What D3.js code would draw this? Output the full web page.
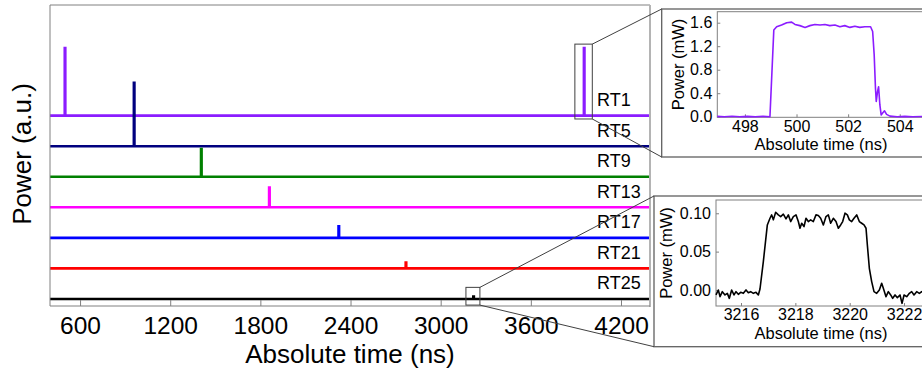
<!DOCTYPE html>
<head>
    <meta charset="utf-8">
    <title>Round trips : pulse power vs absolute time</title>
    <style>
        body { margin: 0; background: #fff; }
        svg { display: block; font-family: "Liberation Sans", Arial, sans-serif; }
        svg text { font-family: "Liberation Sans", Arial, sans-serif; }
        .frame { fill: none; stroke: #808080; stroke-width: 1; }
        .tick line { stroke: #808080; }
        .domain { display: none; }
    </style>
</head>
<body>
<svg width="922" height="371"></svg>

<script src="https://d3js.org/d3.v7.min.js"></script>
<script>

    //****************************data************************************//

    // main panel: one trace per round trip, stacked with an offset (a.u.)
    var traceNames = ["RT1", "RT5", "RT9", "RT13", "RT17", "RT21", "RT25"];
    var traceOffsets = [6, 5, 4, 3, 2, 1, 0];
    var pulseTimes = [[500, 3955], [960], [1407], [1860], [2322], [2769], [3219]]; // ns
    var pulseHeights = [[2.21, 2.21], [2.07], [0.91], [0.65], [0.38], [0.19], [0.08]]; // a.u.
    var mainTicks = [600, 1200, 1800, 2400, 3000, 3600, 4200];

    // inset 1 : RT1 pulse
    var rt1Time = [496.93, 497.2, 497.5, 497.8, 498.1, 498.4, 498.7, 498.97, 499.12, 499.23, 499.42, 499.62,
        499.81, 499.94, 500.13, 500.33, 500.52, 500.71, 500.91, 501.1, 501.29, 501.49, 501.68, 501.87,
        502.07, 502.26, 502.45, 502.65, 502.87, 502.95, 503.01, 503.06, 503.09, 503.14, 503.18, 503.23,
        503.28, 503.33, 503.41, 503.49, 503.62, 503.9, 504.2, 504.5, 504.85, 505.2, 505.5];
    var rt1Power = [0.005, 0.0, 0.008, 0.0, 0.006, 0.0, 0.005, 0.0, 1.476, 1.53, 1.56, 1.60,
        1.61, 1.57, 1.55, 1.52, 1.55, 1.57, 1.56, 1.57, 1.55, 1.56, 1.53, 1.55,
        1.52, 1.54, 1.52, 1.53, 1.53, 1.45, 1.05, 0.48, 0.26, 0.43, 0.51, 0.20,
        0.03, 0.06, 0.10, 0.04, 0.01, 0.0, 0.005, 0.0, 0.004, 0.0, 0.003];
    var inset1XTicks = [498, 500, 502, 504];
    var inset1YTicks = [0, 0.4, 0.8, 1.2, 1.6];

    // inset 2 : RT25 pulse
    var rt25Time = [3215.08, 3215.166, 3215.227, 3215.313, 3215.411, 3215.497, 3215.571, 3215.656, 3215.742,
        3215.816, 3215.902, 3215.988, 3216.086, 3216.184, 3216.27, 3216.356, 3216.454, 3216.552, 3216.638,
        3216.699, 3216.822, 3216.969, 3217.067, 3217.129, 3217.19, 3217.276, 3217.374, 3217.46, 3217.558,
        3217.656, 3217.742, 3217.828, 3217.926, 3218.024, 3218.11, 3218.171, 3218.233, 3218.319, 3218.392,
        3218.478, 3218.564, 3218.662, 3218.76, 3218.846, 3218.932, 3219.03, 3219.128, 3219.214, 3219.3,
        3219.398, 3219.496, 3219.582, 3219.668, 3219.742, 3219.828, 3219.914, 3219.987, 3220.073, 3220.159,
        3220.257, 3220.355, 3220.441, 3220.527, 3220.601, 3220.65, 3220.723, 3220.809, 3220.895, 3220.993,
        3221.091, 3221.177, 3221.238, 3221.336, 3221.422, 3221.508, 3221.582, 3221.668, 3221.754, 3221.852,
        3221.926, 3222.0, 3222.098, 3222.196, 3222.281, 3222.367, 3222.465, 3222.563, 3222.65, 3222.75];
    var rt25Power = [-0.0065, 0.0, -0.0087, -0.0022, -0.0065, -0.0044, -0.0109, 0.0, -0.0065,
        -0.0022, -0.0057, -0.0031, -0.0044, 0.0, -0.0035, -0.0022, -0.0044, -0.0031, -0.0065,
        0.0013, 0.037, 0.0848, 0.0935, 0.0979, 0.0914, 0.1014, 0.0979, 0.0957, 0.0988,
        0.0927, 0.0979, 0.0892, 0.0957, 0.0979, 0.0892, 0.0805, 0.087, 0.0827, 0.0935,
        0.0892, 0.0914, 0.0892, 0.0979, 0.097, 0.0935, 0.0848, 0.0957, 0.0979, 0.087,
        0.0935, 0.0892, 0.0805, 0.0848, 0.0892, 0.1001, 0.0979, 0.0914, 0.0892, 0.0935,
        0.0979, 0.0892, 0.087, 0.0848, 0.0805, 0.0587, 0.0283, 0.0109, -0.0022, -0.0044,
        0.0, 0.0087, 0.0022, -0.0087, -0.0022, -0.0065, -0.0109, -0.0065, -0.01, -0.0065,
        -0.0174, -0.0065, -0.0087, -0.0044, -0.0022, -0.0065, -0.0022, -0.0044, -0.0022, -0.003];
    var inset2XTicks = [3216, 3218, 3220, 3222];
    var inset2YTicks = [0, 0.05, 0.10];

    // zoom windows drawn on the main panel [t0, t1, v0, v1]
    var zoomWindows = [[3893, 4009, 5.89, 8.34], [3168, 3261, -0.2, 0.38]];

    //****************************styles************************************//
    var traceColors = ["#8b1cff", "#00007f", "#008000", "#ff00ff", "#0000ff", "#ff0000", "#000000"];
    var pulseWidth = 4; // ns, from the insets

    var svg = d3.select("svg");

    //****************************main panel************************************//
    var x = d3.scaleLinear().domain([400, 4393]).range([50, 650]);
    var y = d3.scaleLinear().domain([-0.23, 9.62]).range([306, 5]);

    var line = d3.line().x(d => x(d[0])).y(d => y(d[1]));

    // traces, RT1 first so later ones sit on top
    traceNames.forEach((name, i) => {
        var off = traceOffsets[i];
        var pts = [[400, off]];
        pulseTimes[i].forEach((t, j) => {
            var h = pulseHeights[i][j];
            pts.push([t - pulseWidth / 2, off], [t - pulseWidth / 2 + 0.2, off + h],
                [t + pulseWidth / 2 - 0.2, off + h], [t + pulseWidth / 2, off]);
        });
        pts.push([4393, off]);
        svg.append("path")
            .datum(pts)
            .attr("fill", "none")
            .attr("stroke", traceColors[i])
            .attr("stroke-width", 2.6)
            .attr("d", line);
    });

    // labels
    svg.append("g").selectAll("text")
        .data(traceNames)
        .enter().append("text")
            .attr("x", 597)
            .attr("y", (d, i) => y(traceOffsets[i]) - 9.5)
            .attr("font-size", 18)
            .attr("fill", "#000")
            .text(d => d);

    // frame: left, top, right
    svg.append("line").attr("class", "frame").attr("x1", 50).attr("x2", 50).attr("y1", 5).attr("y2", 306);
    svg.append("line").attr("class", "frame").attr("x1", 50).attr("x2", 650).attr("y1", 5).attr("y2", 5);
    svg.append("line").attr("x1", 650).attr("x2", 650).attr("y1", 5).attr("y2", 307)
        .attr("stroke", "#b4b4b4").attr("stroke-width", 2);
    svg.append("line").attr("class", "frame").attr("x1", 50).attr("x2", 650).attr("y1", 306).attr("y2", 306);

    var gx = svg.append("g")
        .attr("transform", "translate(0,306)")
        .call(d3.axisBottom(x).tickValues(mainTicks).tickSize(-6).tickPadding(11).tickFormat(d3.format("d")));
    gx.attr("font-family", null).attr("font-size", null);
    gx.selectAll("text").attr("font-size", 24.5).attr("fill", "#000");

    svg.append("text")
        .attr("x", 350).attr("y", 363)
        .attr("text-anchor", "middle")
        .attr("font-size", 26)
        .text("Absolute time (ns)");

    svg.append("text")
        .attr("transform", "translate(31,154) rotate(-90)")
        .attr("text-anchor", "middle")
        .attr("font-size", 26)
        .text("Power (a.u.)");

    // zoom windows
    zoomWindows.forEach(w => {
        svg.append("rect")
            .attr("x", x(w[0])).attr("y", y(w[3]))
            .attr("width", x(w[1]) - x(w[0])).attr("height", y(w[2]) - y(w[3]))
            .attr("fill", "none").attr("stroke", "#404040").attr("stroke-width", 1);
    });

    //****************************insets************************************//
    function inset(opt) {
        // outer box
        svg.append("rect")
            .attr("x", opt.box[0]).attr("y", opt.box[1])
            .attr("width", 960 - opt.box[0]).attr("height", opt.box[2] - opt.box[1])
            .attr("fill", "#fff").attr("stroke", "#606060").attr("stroke-width", 1.3);

        // connectors from the zoom window
        var w = opt.win;
        svg.append("line").attr("x1", x(w[1])).attr("y1", y(w[3])).attr("x2", opt.box[0]).attr("y2", opt.box[1])
            .attr("stroke", "#404040");
        svg.append("line").attr("x1", x(w[1])).attr("y1", y(w[2])).attr("x2", opt.box[0]).attr("y2", opt.box[2])
            .attr("stroke", "#404040");

        var ix = d3.scaleLinear().domain(opt.xd).range(opt.xr);
        var iy = d3.scaleLinear().domain(opt.yd).range(opt.yr);

        svg.append("rect").attr("class", "frame")
            .attr("x", opt.xr[0]).attr("y", opt.yr[1])
            .attr("width", opt.xr[1] - opt.xr[0]).attr("height", opt.yr[0] - opt.yr[1]);

        var ax = svg.append("g")
            .attr("transform", "translate(0," + opt.yr[0] + ")")
            .call(d3.axisBottom(ix).tickValues(opt.xt).tickSize(-3).tickPadding(3).tickFormat(d3.format("d")));
        var ay = svg.append("g")
            .attr("transform", "translate(" + opt.xr[0] + ",0)")
            .call(d3.axisLeft(iy).tickValues(opt.yt).tickSize(-3).tickPadding(5).tickFormat(d3.format(opt.yf)));
        ax.attr("font-family", null).attr("font-size", null);
        ay.attr("font-family", null).attr("font-size", null);
        ax.selectAll("text").attr("font-size", 16).attr("fill", "#000");
        ay.selectAll("text").attr("font-size", 16).attr("fill", "#000");

        svg.append("path")
            .datum(opt.t.map((t, i) => [t, opt.p[i]]))
            .attr("fill", "none")
            .attr("stroke", opt.color)
            .attr("stroke-width", 1.6)
            .attr("stroke-linejoin", "round")
            .attr("d", d3.line().x(d => ix(d[0])).y(d => iy(d[1])));

        svg.append("text")
            .attr("x", 821).attr("y", opt.yr[0] + 33)
            .attr("text-anchor", "middle").attr("font-size", 16.5)
            .text("Absolute time (ns)");
        svg.append("text")
            .attr("transform", "translate(" + opt.ylx + "," + (opt.yr[0] + opt.yr[1]) / 2 + ") rotate(-90)")
            .attr("text-anchor", "middle").attr("font-size", 16.5)
            .text("Power (mW)");
    }

    inset({
        box: [661.7, 9, 157], win: zoomWindows[0],
        xd: [496.93, 505.56], xr: [717.3, 940],
        yd: [-0.01, 1.787], yr: [117.3, 11.7],
        xt: inset1XTicks, yt: inset1YTicks, yf: ".1f",
        t: rt1Time, p: rt1Power, color: traceColors[0], ylx: 684
    });

    inset({
        box: [654, 196, 346.7], win: zoomWindows[1],
        xd: [3215.08, 3223.5], xr: [716, 944.8],
        yd: [-0.0209, 0.1173], yr: [306, 200],
        xt: inset2XTicks, yt: inset2YTicks, yf: ".2f",
        t: rt25Time, p: rt25Power, color: "#000", ylx: 672
    });

</script>
</body>
